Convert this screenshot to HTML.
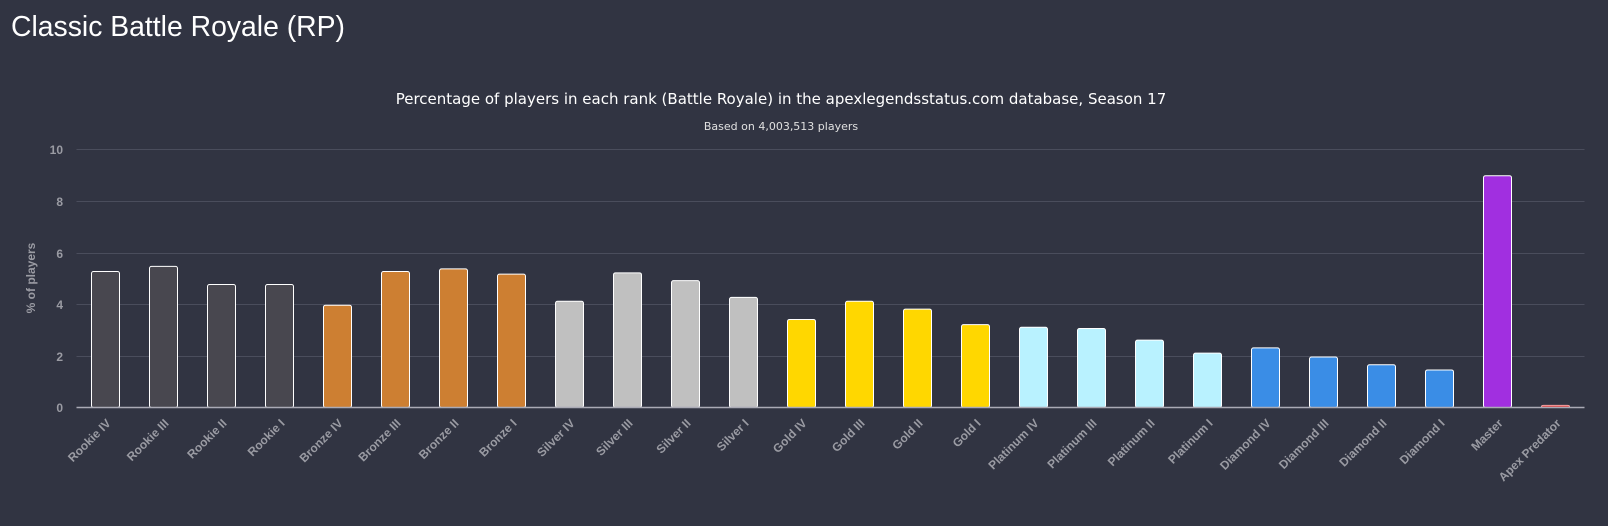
<!DOCTYPE html>
<html><head><style>
html,body{margin:0;padding:0;background:#313442;width:1608px;height:526px;overflow:hidden}
svg{display:block}
</style></head><body>
<svg width="1608" height="526" xmlns="http://www.w3.org/2000/svg" font-family="Liberation Sans, DejaVu Sans, sans-serif">
<rect width="1608" height="526" fill="#313442"/>
<text x="11" y="36" font-size="29" fill="#ffffff" textLength="334" lengthAdjust="spacingAndGlyphs">Classic Battle Royale (RP)</text>
<text x="781" y="104" font-size="15" fill="#ffffff" text-anchor="middle" font-family="DejaVu Sans, sans-serif">Percentage of players in each rank (Battle Royale) in the apexlegendsstatus.com database, Season 17</text>
<text x="781" y="130" font-size="11" fill="#e0e0e0" text-anchor="middle" font-family="DejaVu Sans, sans-serif">Based on 4,003,513 players</text>
<g stroke="#4a4d5c" stroke-width="1">
<line x1="76.5" x2="1584.5" y1="149.5" y2="149.5"/>
<line x1="76.5" x2="1584.5" y1="201.5" y2="201.5"/>
<line x1="76.5" x2="1584.5" y1="253.5" y2="253.5"/>
<line x1="76.5" x2="1584.5" y1="304.5" y2="304.5"/>
<line x1="76.5" x2="1584.5" y1="356.5" y2="356.5"/>
</g>
<g font-size="12" font-weight="bold" fill="#9a9ba3" text-anchor="end">
<text x="63" y="154">10</text><text x="63" y="206">8</text><text x="63" y="258">6</text>
<text x="63" y="309">4</text><text x="63" y="361">2</text><text x="63" y="412">0</text>
</g>
<text transform="translate(35,278) rotate(-90)" font-size="12" font-weight="bold" fill="#9a9ba3" text-anchor="middle">% of players</text>
<g id="bars" stroke="#ffffff" stroke-width="1"></g>
<line x1="76.5" x2="1584.5" y1="407.5" y2="407.5" stroke="#aaaab5" stroke-width="1.5"/>
<g id="labels" font-size="12" font-weight="bold" fill="#9a9ba3" text-anchor="end"></g>
<script>
var d=[["Rookie IV",5.25,"#48474f"],["Rookie III",5.45,"#48474f"],["Rookie II",4.75,"#48474f"],["Rookie I",4.75,"#48474f"],
["Bronze IV",3.95,"#cd7f32"],["Bronze III",5.25,"#cd7f32"],["Bronze II",5.35,"#cd7f32"],["Bronze I",5.15,"#cd7f32"],
["Silver IV",4.1,"#c0c0c0"],["Silver III",5.2,"#c0c0c0"],["Silver II",4.9,"#c0c0c0"],["Silver I",4.25,"#c0c0c0"],
["Gold IV",3.4,"#ffd700"],["Gold III",4.1,"#ffd700"],["Gold II",3.8,"#ffd700"],["Gold I",3.2,"#ffd700"],
["Platinum IV",3.1,"#b9f2ff"],["Platinum III",3.05,"#b9f2ff"],["Platinum II",2.6,"#b9f2ff"],["Platinum I",2.1,"#b9f2ff"],
["Diamond IV",2.3,"#3a8de6"],["Diamond III",1.95,"#3a8de6"],["Diamond II",1.65,"#3a8de6"],["Diamond I",1.45,"#3a8de6"],
["Master",8.95,"#a12fe0"],["Apex Predator",0.08,"#e04545"]];
var ns="http://www.w3.org/2000/svg",b=document.getElementById("bars"),l=document.getElementById("labels");
d.forEach(function(e,i){var cx=105.5+58*i,h=e[1]*25.9,r=document.createElementNS(ns,"rect");
r.setAttribute("x",cx-14);r.setAttribute("y",407.5-h);r.setAttribute("width",28);r.setAttribute("height",h);
r.setAttribute("rx",2);r.setAttribute("fill",e[2]);if(i==25)r.setAttribute("stroke","#f2a0a0");b.appendChild(r);
var t=document.createElementNS(ns,"text");t.setAttribute("transform","translate("+(cx+6)+",424) rotate(-45)");t.textContent=e[0];l.appendChild(t);});
</script>
</svg>
</body></html>
